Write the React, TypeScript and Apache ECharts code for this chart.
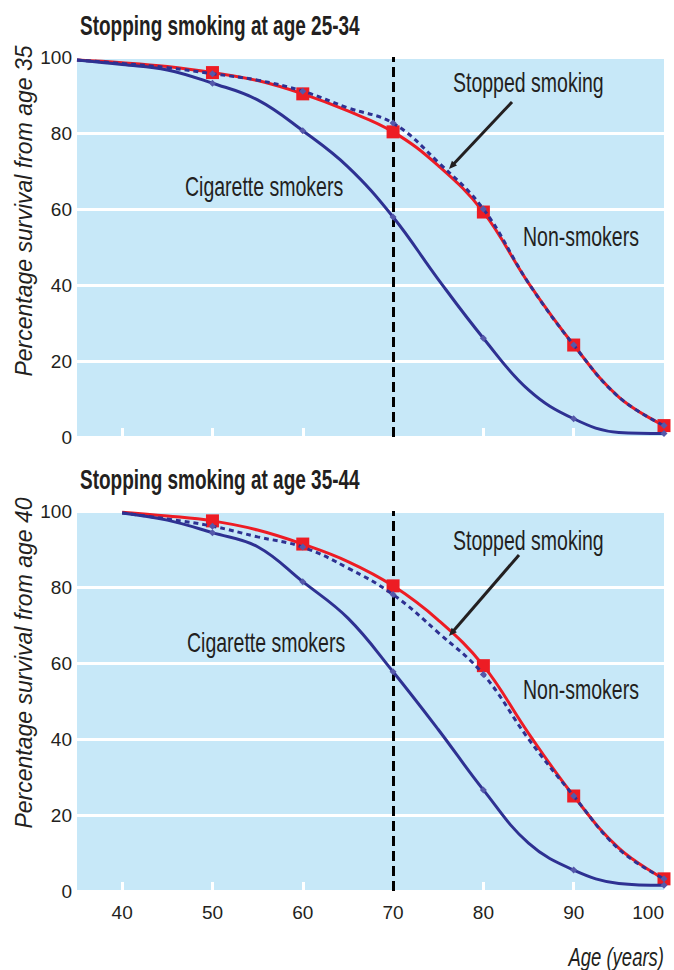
import React, { useEffect, useRef } from "react";
import * as echarts from "echarts";

// ---- data ----
const ages1 = [35, 40, 45, 50, 55, 60, 65, 70, 75, 80, 85, 90, 95, 100];
const nonSmokers1 = [99.2, 98.5, 97.5, 95.9, 93.8, 90.3, 85.8, 80.3, 71.4, 59.2, 40.5, 24.2, 10.5, 3.0];
const smokers1 = [99.2, 98.0, 96.6, 93.1, 88.7, 80.6, 71.1, 57.9, 41.5, 26.0, 12.4, 4.8, 1.2, 0.9];
const stopped1 = [99.2, 98.3, 97.2, 95.6, 93.9, 91.0, 86.6, 82.6, 72.3, 60.0, 40.5, 24.2, 10.5, 3.0];

const ages2 = [40, 45, 50, 55, 60, 65, 70, 75, 80, 85, 90, 95, 100];
const nonSmokers2 = [99.7, 98.7, 97.4, 95.0, 91.3, 86.7, 80.3, 71.3, 59.3, 41.5, 25.0, 11.3, 3.2];
const smokers2 = [99.5, 97.6, 94.3, 90.6, 81.4, 71.8, 57.7, 42.5, 26.6, 12.6, 5.5, 2.0, 1.5];
const stopped2 = [99.5, 97.9, 96.0, 93.2, 90.5, 85.0, 78.0, 68.0, 57.0, 40.0, 25.0, 11.0, 3.2];

const redMarkerAges = [50, 60, 70, 80, 90, 100];
const blueMarkerAges = [50, 60, 70, 80, 90, 100];
const xLabelValues = [40, 50, 60, 70, 80, 90, 100];
const xTickValues = [40, 50, 60, 80, 90];
const dividerAge = 70;

const panelTitles = ["Stopping smoking at age 25-34", "Stopping smoking at age 35-44"];
const yTitles = ["Percentage survival from age 35", "Percentage survival from age 40"];
const seriesNames = ["Non-smokers", "Stopped smoking", "Cigarette smokers"];
const xTitle = "Age (years)";

const RED = "#ED1C24";
const BLUE = "#2E3192";
const BLUE_MARK = "#5558AA";
const BG = "#C7E8F8";
const INK = "#231F20";
const FONT = '"Liberation Sans", Arial, Helvetica, sans-serif';

function pts(ages: number[], vals: number[], marks: number[], sym: string) {
  return ages.map((a, i) => ({
    value: [a, vals[i]],
    symbol: marks.includes(a) ? sym : "none",
  }));
}

function txt(text: string, x: number, y: number, opts: any = {}) {
  return {
    type: "text",
    x,
    y,
    rotation: opts.rotation ?? 0,
    scaleY: opts.scaleY ?? 1.4,
    z: 100,
    style: {
      text,
      fill: INK,
      font: `${opts.italic ? "italic " : ""}${opts.bold ? "bold " : ""}${opts.size ?? 19.5}px ${FONT}`,
      textAlign: opts.align ?? "left",
      align: opts.align ?? "left",
      textVerticalAlign: "middle",
      verticalAlign: "middle",
    },
  };
}

function arrow(x1: number, y1: number, x2: number, y2: number) {
  const dx = x2 - x1;
  const dy = y2 - y1;
  const len = Math.hypot(dx, dy);
  const ux = dx / len;
  const uy = dy / len;
  const bx = x2 - ux * 8;
  const by = y2 - uy * 8;
  const px = -uy * 3.5;
  const py = ux * 3.5;
  return [
    {
      type: "line",
      z: 100,
      shape: { x1, y1, x2: x2 - ux * 4, y2: y2 - uy * 4 },
      style: { stroke: INK, lineWidth: 3 },
    },
    {
      type: "polygon",
      z: 100,
      shape: { points: [[x2, y2], [bx + px, by + py], [bx - px, by - py]] },
      style: { fill: INK },
    },
  ];
}

export default function App() {
  const ref = useRef<HTMLDivElement>(null);

  useEffect(() => {
    if (!ref.current) return;
    const chart = echarts.init(ref.current, undefined, { renderer: "svg" });

    const grids = [
      { left: 77, top: 57, width: 587, height: 380 },
      { left: 77, top: 511, width: 587, height: 380 },
    ].map((g) => ({
      ...g,
      show: true,
      backgroundColor: BG,
      borderWidth: 0,
      containLabel: false,
      outerBoundsMode: "none",
    }));

    const xAxes = [0, 1].map((i) => ({
      gridIndex: i,
      type: "value",
      min: 35,
      max: 100,
      axisLine: { show: false },
      axisTick: {
        show: true,
        inside: true,
        length: 9,
        customValues: xTickValues,
        lineStyle: { color: "#ffffff", width: 3 },
      },
      axisLabel: {
        show: i === 1,
        customValues: xLabelValues,
        fontSize: 19,
        fontFamily: FONT,
        color: INK,
        margin: 12,
        alignMaxLabel: "right",
      },
      splitLine: { show: false },
    }));

    const yAxes = [0, 1].map((i) => ({
      gridIndex: i,
      type: "value",
      min: 0,
      max: 100,
      interval: 20,
      axisLine: { show: false },
      axisTick: { show: false },
      axisLabel: { fontSize: 19, fontFamily: FONT, color: INK, margin: 5 },
      splitLine: { show: true, lineStyle: { color: "#ffffff", width: 3 } },
    }));

    const common = { smooth: 0.4, showSymbol: true };

    const panel = (i: number, ages: number[], non: number[], smk: number[], stp: number[]) => [
      {
        ...common,
        name: seriesNames[0],
        type: "line",
        xAxisIndex: i,
        yAxisIndex: i,
        data: pts(ages, non, redMarkerAges, "rect"),
        symbolSize: 13,
        lineStyle: { color: RED, width: 3 },
        itemStyle: { color: RED },
        z: 3,
      },
      {
        ...common,
        name: seriesNames[1],
        type: "line",
        xAxisIndex: i,
        yAxisIndex: i,
        data: pts(ages, stp, blueMarkerAges, "diamond"),
        symbolSize: 7,
        lineStyle: { color: BLUE, width: 3, type: [5, 4] },
        itemStyle: { color: BLUE_MARK },
        z: 4,
      },
      {
        ...common,
        name: seriesNames[2],
        type: "line",
        xAxisIndex: i,
        yAxisIndex: i,
        data: pts(ages, smk, blueMarkerAges, "diamond"),
        symbolSize: 7,
        lineStyle: { color: BLUE, width: 3 },
        itemStyle: { color: BLUE_MARK },
        z: 4,
        markLine: {
          silent: true,
          symbol: "none",
          label: { show: false },
          lineStyle: { color: "#000000", width: 3, type: [10, 5] },
          data: [{ xAxis: dividerAge }],
          z: 2,
        },
      },
    ];

    chart.setOption({
      animation: false,
      grid: grids,
      xAxis: xAxes,
      yAxis: yAxes,
      series: [
        ...panel(0, ages1, nonSmokers1, smokers1, stopped1),
        ...panel(1, ages2, nonSmokers2, smokers2, stopped2),
      ],
      graphic: [
        txt(panelTitles[0], 80, 26, { bold: true, size: 19, scaleY: 1.45 }),
        txt(panelTitles[1], 80, 480, { bold: true, size: 19, scaleY: 1.45 }),
        txt(yTitles[0], 24, 211, { italic: true, size: 23, align: "center", rotation: Math.PI / 2, scaleY: 1 }),
        txt(yTitles[1], 24, 663, { italic: true, size: 23, align: "center", rotation: Math.PI / 2, scaleY: 1 }),
        txt(seriesNames[2], 185, 187),
        txt(seriesNames[1], 453, 83),
        txt(seriesNames[0], 523, 237),
        txt(seriesNames[2], 187, 643),
        txt(seriesNames[1], 453, 541),
        txt(seriesNames[0], 523, 690),
        txt(xTitle, 664, 957, { italic: true, size: 18.5, align: "right" }),
        ...arrow(512, 102, 449, 169),
        ...arrow(519, 555, 449, 636),
      ],
    });

    return () => chart.dispose();
  }, []);

  return (
    <div
      ref={ref}
      style={{ position: "fixed", left: 0, top: 0, width: 674, height: 970, background: "#ffffff" }}
    />
  );
}
